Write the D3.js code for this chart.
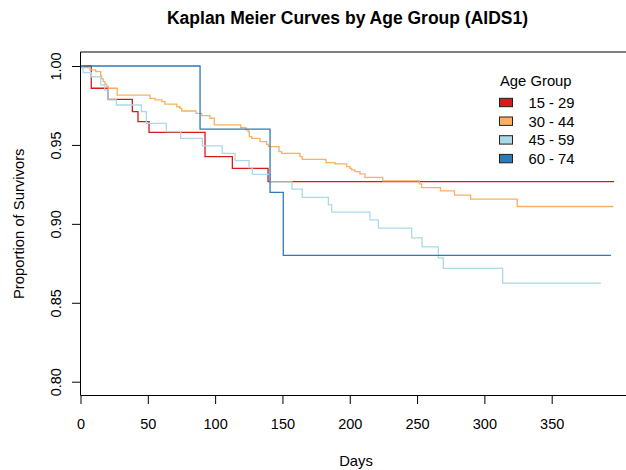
<!DOCTYPE html>
<html>
<head>
<meta charset="utf-8">
<script src="https://cdn.jsdelivr.net/npm/d3@7"></script>
<style>
  html, body { margin: 0; padding: 0; background: #ffffff; }
  svg { display: block; }
  text { font-family: "Liberation Sans", Arial, sans-serif; fill: #000; }
</style>
</head>
<body>
<svg id="chart" width="626" height="470"></svg>
<script>
// ---- Data ----
const groups = ["15 - 29", "30 - 44", "45 - 59", "60 - 74"];
const groupColors = ["#D7191C", "#FDAE61", "#ABD9E9", "#2C7BB6"];

const time1529 = [0, 8.0, 20.4, 38.5, 42.7, 50.9, 92.5, 112.8, 139.3, 396.3];
const surv1529 = [1, 0.9859, 0.9789, 0.9711, 0.9647, 0.9579, 0.9426, 0.9351, 0.9268, 0.9268];

const time3044 = [0, 0.7, 7.1, 11.3, 15.0, 15.7, 16.9, 18.2, 19.5, 20.6, 27.3, 51.6, 55.3, 60.3, 62.7,
  71.5, 73.9, 75.2, 85.8, 90.0, 96.2, 99.4, 119.0, 122.9, 124.6, 125.4, 127.2, 133.3, 138.3,
  139.5, 147.4, 149.4, 163.0, 164.7, 182.3, 189.0, 197.7, 200.2, 201.4, 203.9, 207.6, 211.3,
  224.5, 251.7, 253.4, 267.4, 277.8, 289.8, 324.4, 395.9];
const surv3044 = [1, 0.9990, 0.9975, 0.9964, 0.9939, 0.9918, 0.9901, 0.9884, 0.9869, 0.9859, 0.9816, 0.9795, 0.9785, 0.9774, 0.9758,
  0.9742, 0.9732, 0.9715, 0.9700, 0.9686, 0.9669, 0.9627, 0.9610, 0.9595, 0.9584, 0.9553, 0.9542, 0.9521, 0.9504,
  0.9489, 0.9458, 0.9447, 0.9426, 0.9409, 0.9388, 0.9380, 0.9363, 0.9352, 0.9342, 0.9331, 0.9316, 0.9294,
  0.9272, 0.9253, 0.9230, 0.9209, 0.9182, 0.9157, 0.9110, 0.9110];

const time4559 = [0, 1.9, 8.0, 15.0, 18.0, 20.4, 26.6, 45.2, 48.9, 63.7, 74.4, 90.5, 105.3, 114.8, 125.2,
  127.6, 140.8, 157.1, 164.7, 184.1, 186.6, 215.0, 221.3, 246.0, 253.7, 265.8, 269.5, 313.6, 386.6];
const surv4559 = [1, 0.9958, 0.9932, 0.9880, 0.9848, 0.9785, 0.9753, 0.9711, 0.9637, 0.9584, 0.9542, 0.9494, 0.9447, 0.9400, 0.9356,
  0.9314, 0.9266, 0.9220, 0.9168, 0.9120, 0.9074, 0.9025, 0.8973, 0.8911, 0.8854, 0.8785, 0.8718, 0.8624, 0.8624];

const time6074 = [0, 88.8, 140.8, 150.6, 394.0];
const surv6074 = [1, 0.96, 0.92, 0.88, 0.88];

const xTicks = [0, 50, 100, 150, 200, 250, 300, 350];
const yTicks = [0.80, 0.85, 0.90, 0.95, 1.00];

const titleText = "Kaplan Meier Curves by Age Group (AIDS1)";
const xLabel = "Days";
const yLabel = "Proportion of Survivors";
const legendTitle = "Age Group";

// ---- Build ----
const series = [
  { name: groups[0], color: groupColors[0], t: time1529, s: surv1529 },
  { name: groups[1], color: groupColors[1], t: time3044, s: surv3044 },
  { name: groups[2], color: groupColors[2], t: time4559, s: surv4559 },
  { name: groups[3], color: groupColors[3], t: time6074, s: surv6074 }
];

const svg = d3.select("#chart");
const box = { left: 80.5, right: 626, top: 52, bottom: 395.5 };

const x = d3.scaleLinear().domain([0, 350]).range([80.5, 551.7]);
const y = d3.scaleLinear().domain([0.80, 1.00]).range([381.7, 66]);

// Curves
const line = d3.line()
  .x(d => x(d[0]))
  .y(d => y(d[1]))
  .curve(d3.curveStepAfter);

svg.append("g").selectAll("path")
  .data(series)
  .join("path")
  .attr("d", d => line(d.t.map((tt, i) => [tt, d.s[i]])))
  .attr("fill", "none")
  .attr("stroke", d => d.color)
  .attr("stroke-width", 1.3);

// Box (left, top, bottom)
svg.append("path")
  .attr("d", `M${box.right},${box.top}H${box.left}V${box.bottom}H${box.right}`)
  .attr("fill", "none")
  .attr("stroke", "#000")
  .attr("stroke-width", 1);

// X axis
const xAxis = d3.axisBottom(x).tickValues(xTicks).tickSize(8.5).tickPadding(5).tickFormat(d3.format("d"));
const gx = svg.append("g").attr("transform", `translate(0,${box.bottom})`).call(xAxis);
gx.select(".domain").remove();
gx.selectAll("line").attr("stroke", "#000");
gx.selectAll("text")
  .attr("font-size", "14.5px")
  .attr("font-family", "'Liberation Sans', Arial, sans-serif")
  .attr("fill", "#000")
  .attr("dy", null)
  .attr("y", 33.5);

// Y axis
const yAxis = d3.axisLeft(y).tickValues(yTicks).tickSize(8.5).tickFormat(d3.format(".2f"));
const gy = svg.append("g").attr("transform", `translate(${box.left},0)`).call(yAxis);
gy.select(".domain").remove();
gy.selectAll("line").attr("stroke", "#000");
gy.selectAll("text")
  .attr("font-size", "14.5px")
  .attr("font-family", "'Liberation Sans', Arial, sans-serif")
  .attr("fill", "#000")
  .attr("x", null).attr("dy", null)
  .attr("text-anchor", "middle")
  .attr("transform", "translate(-20,0) rotate(-90)");

// Titles
svg.append("text")
  .attr("x", 347.5).attr("y", 24)
  .attr("text-anchor", "middle")
  .attr("font-size", "17.5px").attr("font-weight", "bold")
  .text(titleText);

svg.append("text")
  .attr("x", 356).attr("y", 466)
  .attr("text-anchor", "middle")
  .attr("font-size", "14.8px")
  .text(xLabel);

svg.append("text")
  .attr("transform", `translate(24,${(box.top + box.bottom) / 2}) rotate(-90)`)
  .attr("text-anchor", "middle")
  .attr("font-size", "14.8px")
  .text(yLabel);

// Legend
const lg = svg.append("g");
lg.append("text").attr("x", 500).attr("y", 86).attr("font-size", "14.8px").text(legendTitle);
const rows = lg.selectAll("g.row").data(series).join("g")
  .attr("class", "row")
  .attr("transform", (d, i) => `translate(0,${102.5 + i * 18.7})`);
rows.append("rect")
  .attr("x", 499.5).attr("y", -4.2).attr("width", 13).attr("height", 8.4)
  .attr("fill", d => d.color).attr("stroke", "#222").attr("stroke-width", 1);
rows.append("text")
  .attr("x", 528.5).attr("y", 5.3)
  .attr("font-size", "14.8px")
  .text(d => d.name);
</script>
</body>
</html>
